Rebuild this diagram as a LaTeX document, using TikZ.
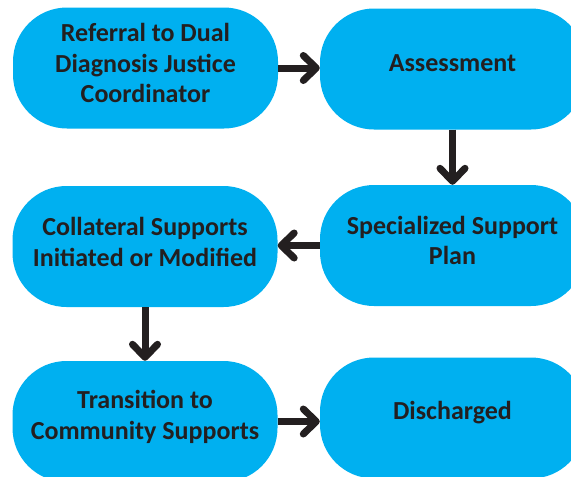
\documentclass[tikz,border=0pt]{standalone}
\usepackage{fontspec}
\setmainfont{Carlito}
\usetikzlibrary{arrows.meta}
\definecolor{boxblue}{HTML}{00B0F0}
\definecolor{ink}{HTML}{231F20}
\begin{document}
\begin{tikzpicture}[x=1pt,y=-1pt,
  stepbox/.style={fill=boxblue, draw=none, rounded corners=54pt,
    minimum width=265pt, minimum height=121pt, inner sep=0pt},
  steptext/.style={inner sep=0pt, align=center, text=ink,
    font=\fontsize{26}{30.5}\selectfont\bfseries},
  flow/.style={draw=ink, line width=7pt,
    -{Straight Barb[length=13pt,width=25pt,round]}}]
\useasboundingbox (0,0) rectangle (571,477);
\fill[white] (0,0) rectangle (571,477);
\clip (0,0) rectangle (571,477);
\node[stepbox] (ref) at (145.5,68) {};
\node[stepbox] (ass) at (452.5,69) {};
\node[stepbox] (ssp) at (452.5,245.5) {};
\node[stepbox] (col) at (145,246.5) {};
\node[stepbox] (tra) at (145,421.5) {};
\node[stepbox] (dis) at (452.5,418) {};
\node[steptext] (ref-t) at ([yshift=5pt]ref.center) {Referral to Dual\\Diagnosis Justice\\Coordinator};
\node[steptext] (ass-t) at ([yshift=5.5pt]ass.center) {Assessment};
\node[steptext] (ssp-t) at ([yshift=5pt]ssp.center) {Specialized Support\\Plan};
\node[steptext] (col-t) at ([yshift=4.5pt]col.center) {Collateral Supports\\Initiated or Modified};
\node[steptext] (tra-t) at ([yshift=4.5pt]tra.center) {Transition to\\Community Supports};
\node[steptext] (dis-t) at ([yshift=5pt]dis.center) {Discharged};
\draw[flow] (ref.east) -- (ref.east -| ass.west);
\draw[flow] (ass.south) -- (ssp.north);
\draw[flow] (ssp.west) -- (ssp.west -| col.east);
\draw[flow] (col.south) -- (tra.north);
\draw[flow] (tra.east) -- (tra.east -| dis.west);
\end{tikzpicture}
\end{document}
